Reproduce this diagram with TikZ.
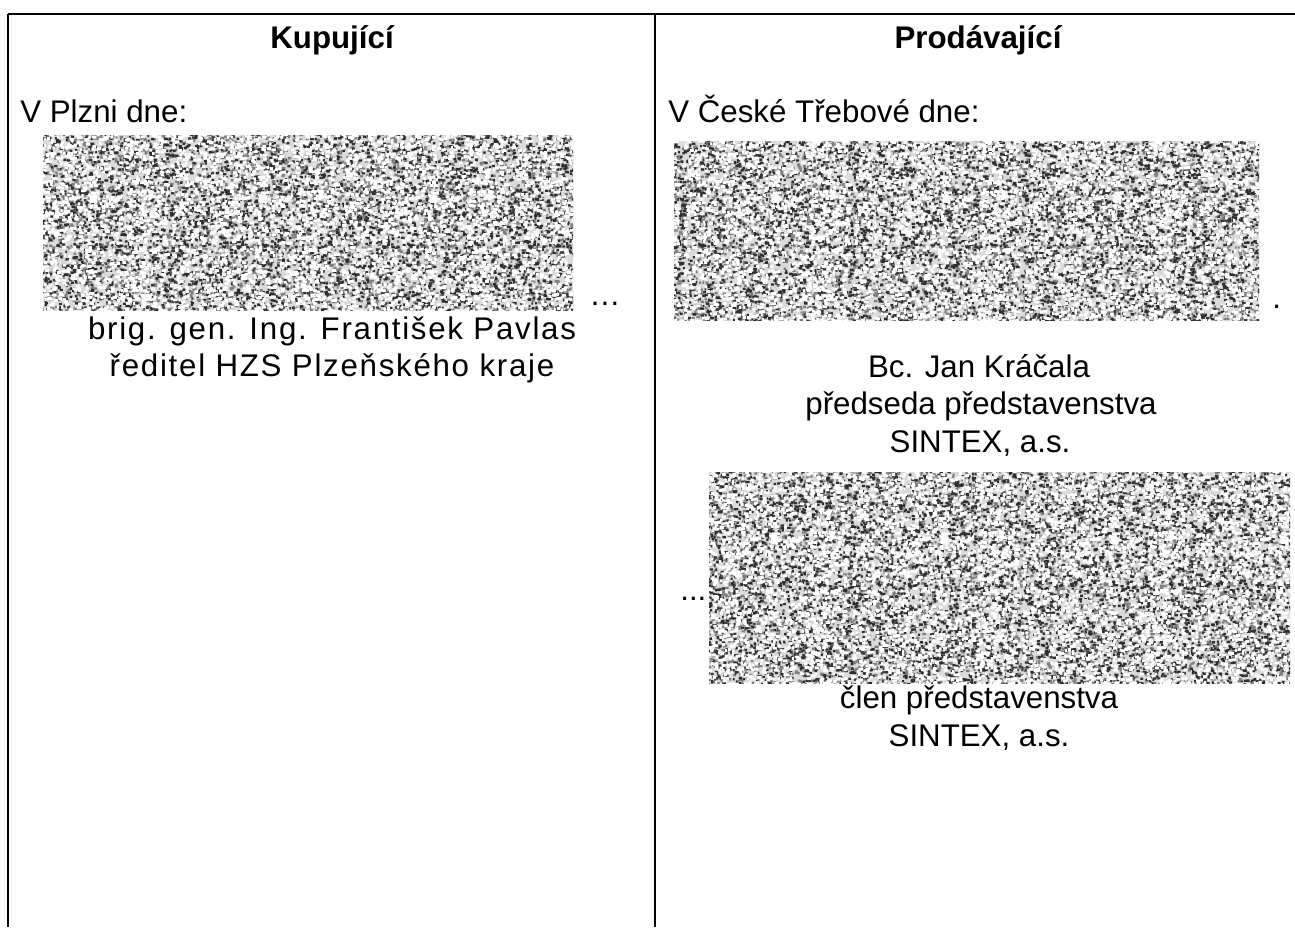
\documentclass[tikz,border=0pt]{standalone}
\usepackage{fontspec}
\setmainfont{Liberation Sans}
\usetikzlibrary{patterns}
\newcommand{\specktile}[4]{% count, seed, tile size (pt), speck size (pt)
  \pgfmathsetseed{#2}%
  \foreach \i in {1,...,#1}{%
    \pgfmathsetmacro\px{rnd*(#3-#4)}%
    \pgfmathsetmacro\py{rnd*(#3-#4)}%
    \pgfmathsetmacro\pw{#4*(0.7+0.9*rnd)}%
    \pgfpathrectangle{\pgfqpoint{\px pt}{\py pt}}{\pgfqpoint{\pw pt}{#4 pt}}%
    \pgfusepath{fill}%
  }%
}
\pgfdeclarepatternformonly{noisedark}{\pgfpointorigin}{\pgfqpoint{83pt}{83pt}}{\pgfqpoint{83pt}{83pt}}{\specktile{1150}{17}{83}{1.3}}
\pgfdeclarepatternformonly{noisemid}{\pgfpointorigin}{\pgfqpoint{71pt}{71pt}}{\pgfqpoint{71pt}{71pt}}{\specktile{850}{91}{71}{1.3}}
\pgfdeclarepatternformonly{noisewhite}{\pgfpointorigin}{\pgfqpoint{97pt}{97pt}}{\pgfqpoint{97pt}{97pt}}{\specktile{1400}{503}{97}{1.6}}
\tikzset{
  txt/.style={inner sep=0pt, font=\fontsize{17.8}{21}\selectfont},
  hdr/.style={txt, font=\fontsize{17.8}{21}\selectfont\bfseries},
  rule/.style={line width=0.85pt, black},
  toprule/.style={line width=1.2pt, black},
  noisebase/.style={fill=black!14},
  noiseA/.style={pattern=noisedark, pattern color=black!82},
  noiseB/.style={pattern=noisemid, pattern color=black!50},
  noiseC/.style={pattern=noisewhite, pattern color=white}
}
\newcommand{\sigbox}[4]{% x0 y0 x1 y1
  \fill[noisebase] (#1,#2) rectangle (#3,#4);
  \fill[noiseB] (#1,#2) rectangle (#3,#4);
  \fill[noiseA] (#1,#2) rectangle (#3,#4);
  \fill[noiseC] (#1,#2) rectangle (#3,#4);
}
\begin{document}
\begin{tikzpicture}[x=0.02cm, y=-0.02cm]
\useasboundingbox (0,0) rectangle (1295,927);
\fill[white] (0,0) rectangle (1295,927);
% frame
\coordinate (tl) at (8,14);
\coordinate (tr) at (1295,14);
\coordinate (bl) at (8,927);
\coordinate (mt) at (655,14);
\coordinate (mb) at (655,927);
\draw[toprule] (tl) -- (tr);
\draw[rule] (tl) -- (bl);
\draw[rule] (mt) -- (mb);
% headers
\node[hdr, anchor=base] (kup) at (332,48) {Kupující};
\node[hdr, anchor=base] (prod) at (978,48) {Prodávající};
\node[txt, anchor=base west] (plzen) at (20,122) {V Plzni dne:};
\node[txt, anchor=base west] (trebova) at (668,122) {V České Třebové dne:};
% signature boxes
\sigbox{43}{135}{573}{310}
\sigbox{674}{141}{1259}{320}
\sigbox{709}{472}{1290}{683}
% ellipses
\node[txt, anchor=base west] (dots1) at (589,305) {…};
\node[txt, anchor=base west] (dot2) at (1272,308) {.};
\node[txt, anchor=base west] (dots3) at (680,600) {...};
% left names
\node[txt, anchor=base] (name1) at (332,339) {\addfontfeatures{LetterSpace=5.5}brig. gen. Ing. František Pavlas};
\node[txt, anchor=base] (role1) at (332,376) {\addfontfeatures{LetterSpace=5.5}ředitel HZS Plzeňského kraje};
% right names
\node[txt, anchor=base] (name2) at (979,377) {Bc. Jan Kráčala};
\node[txt, anchor=base] (role2) at (981,414) {předseda představenstva};
\node[txt, anchor=base] (firm2) at (980,452) {SINTEX, a.s.};
\node[txt, anchor=base] (role3) at (979,708) {člen představenstva};
\node[txt, anchor=base] (firm3) at (979,746) {SINTEX, a.s.};
\end{tikzpicture}
\end{document}
